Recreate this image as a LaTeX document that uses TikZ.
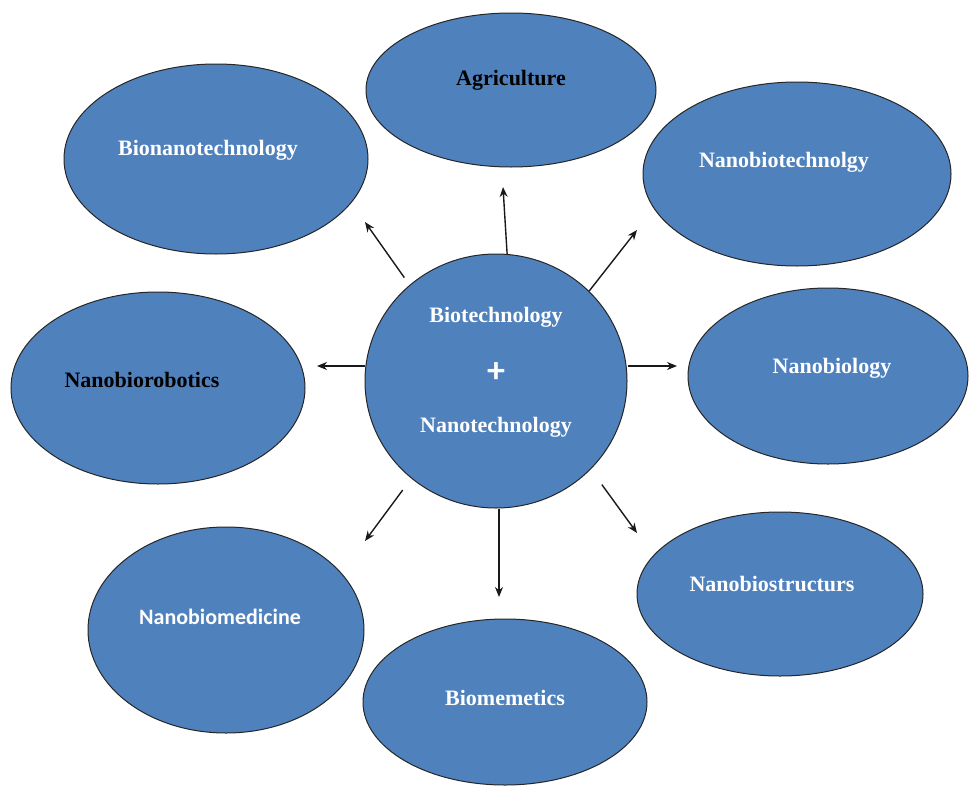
\documentclass[tikz,border=0pt]{standalone}
\usepackage{fontspec}
\setmainfont{Liberation Serif}
\newfontfamily\carlitofont{Carlito}
\usetikzlibrary{shapes.geometric,arrows.meta}
\definecolor{ofblue}{HTML}{4F81BD}
\tikzset{
  bubble/.style={ellipse, draw=black!85, line width=0.5pt, fill=ofblue, inner sep=0pt},
  lbl/.style={font=\fontsize{11}{13}\selectfont\bfseries, text=white, inner sep=0pt},
  lbldark/.style={lbl, text=black},
  arr/.style={line width=0.7pt, draw=black!90, -{Stealth[length=5pt,width=4pt]}}
}
\begin{document}
\begin{tikzpicture}[x=0.5pt,y=-0.5pt]
\useasboundingbox (0,0) rectangle (969,787);
% bubbles
\node[bubble, minimum width=145pt, minimum height=77pt] (agri) at (511,90) {};
\node[bubble, minimum width=152pt, minimum height=95pt] (bionano) at (216,159) {};
\node[bubble, minimum width=154pt, minimum height=92pt] (nbtech) at (797,174) {};
\node[bubble, minimum width=147pt, minimum height=96pt] (nbrob) at (158,388) {};
\node[bubble, minimum width=140pt, minimum height=88pt] (nbio) at (828,376) {};
\node[bubble, minimum width=138pt, minimum height=103pt] (nbmed) at (226,630) {};
\node[bubble, minimum width=143pt, minimum height=82pt] (nbstr) at (780,594) {};
\node[bubble, minimum width=142pt, minimum height=83pt] (biom) at (505,702) {};
\node[bubble, minimum width=131pt, minimum height=127pt] (c) at (496,381) {};
% labels
\node[lbldark] (tagri) at (511,80) {Agriculture};
\node[lbl] (tbionano) at (208,150) {Bionanotechnology};
\node[lbl] (tnbtech) at (784,162) {Nanobiotechnolgy};
\node[lbldark] (tnbrob) at (142,380) {Nanobiorobotics};
\node[lbl] (tnbio) at (832,368) {Nanobiology};
\node[lbl, font=\carlitofont\fontsize{11}{13}\selectfont\bfseries] (tnbmed) at (220,617) {Nanobiomedicine};
\node[lbl] (tnbstr) at (772,584) {Nanobiostructurs};
\node[lbl] (tbiom) at (505,698) {Biomemetics};
\node[lbl] (tbiot) at (496,317) {Biotechnology};
\node[lbl, font=\carlitofont\fontsize{18}{20}\selectfont\bfseries] (tplus) at (496,373) {+};
\node[lbl] (tnanot) at (496,427) {Nanotechnology};
% arrow tips
\coordinate (pUL) at (365,222);
\coordinate (pU) at (503,187);
\coordinate (pUR) at (637,230);
\coordinate (pL) at (317,366);
\coordinate (pR) at (677,366);
\coordinate (pDL) at (365,541);
\coordinate (pD) at (499,597);
\coordinate (pDR) at (637,533);
% arrows
\draw[arr, shorten <=4.5pt] (c.132.4) -- (pUL);
\draw[arr] (c.85) -- (pU);
\draw[arr] (c.44.4) -- (pUR);
\draw[arr] (c.west |- pL) -- (pL);
\draw[arr] (c.east |- pR) -- (pR);
\draw[arr, shorten <=7.2pt] (c.229) -- (pDL);
\draw[arr] (c.south -| pD) -- (pD);
\draw[arr, shorten <=9.4pt] (c.317.5) -- (pDR);
\end{tikzpicture}
\end{document}
